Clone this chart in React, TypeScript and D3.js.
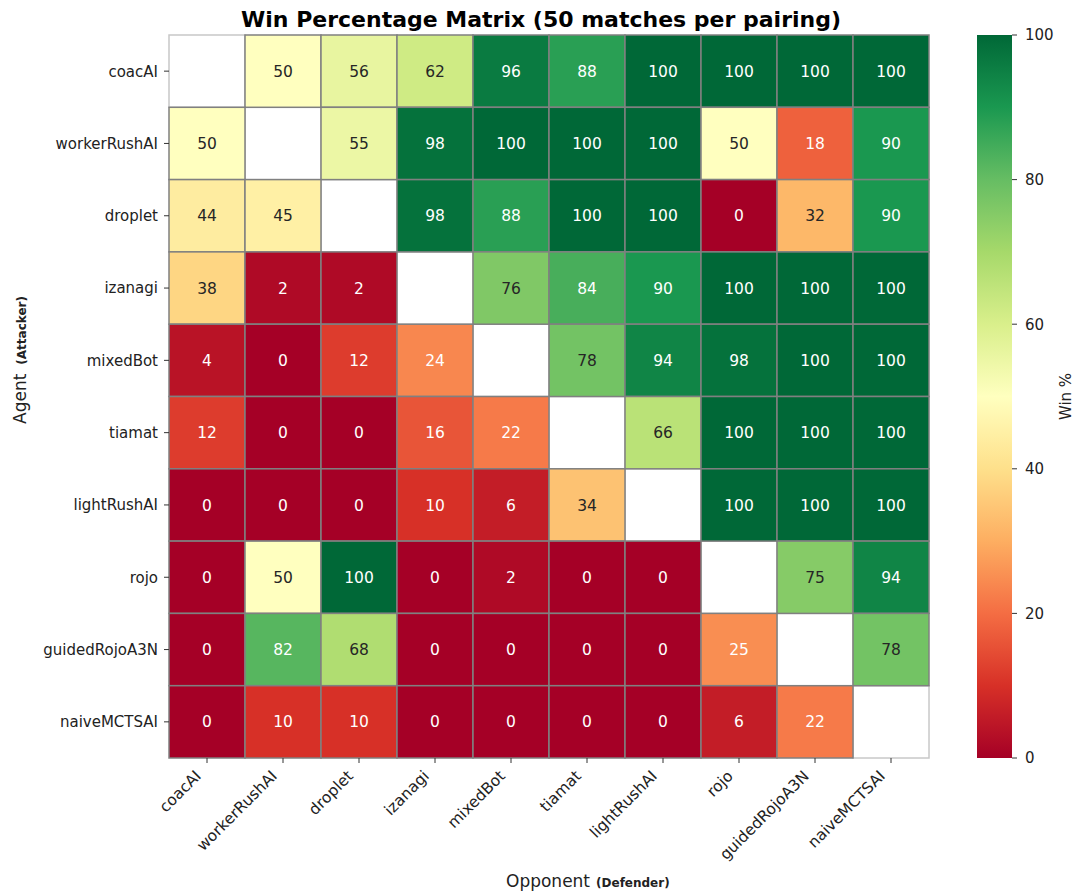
import React from "react";
import * as d3 from "d3";

// Agents in row/column order
const agents = [
  "coacAI",
  "workerRushAI",
  "droplet",
  "izanagi",
  "mixedBot",
  "tiamat",
  "lightRushAI",
  "rojo",
  "guidedRojoA3N",
  "naiveMCTSAI",
];

// Win % of attacker (row) against defender (column); null on the diagonal
const winRows: (number | null)[][] = [
  [null, 50, 56, 62, 96, 88, 100, 100, 100, 100],
  [50, null, 55, 98, 100, 100, 100, 50, 18, 90],
  [44, 45, null, 98, 88, 100, 100, 0, 32, 90],
  [38, 2, 2, null, 76, 84, 90, 100, 100, 100],
  [4, 0, 12, 24, null, 78, 94, 98, 100, 100],
  [12, 0, 0, 16, 22, null, 66, 100, 100, 100],
  [0, 0, 0, 10, 6, 34, null, 100, 100, 100],
  [0, 50, 100, 0, 2, 0, 0, null, 75, 94],
  [0, 82, 68, 0, 0, 0, 0, 25, null, 78],
  [0, 10, 10, 0, 0, 0, 0, 6, 22, null],
];

const colorTicks = [0, 20, 40, 60, 80, 100];

const W = 1080;
const H = 892;
const left = 169;
const right = 929;
const top = 35;
const bottom = 758;
const cbX = 977;
const cbW = 35;

const FONT = "DejaVu Sans, sans-serif";

// RdYlGn, linearly interpolated between the 11 ColorBrewer stops
const rdylgn = d3.piecewise(d3.interpolateRgb, [...d3.schemeRdYlGn[11]]);
const color = (v: number) => rdylgn(v / 100);

function luminance(c: string) {
  const rgb = d3.rgb(c);
  const lin = (x: number) => {
    const s = x / 255;
    return s <= 0.03928 ? s / 12.92 : Math.pow((s + 0.055) / 1.055, 2.4);
  };
  return 0.2126 * lin(rgb.r) + 0.7152 * lin(rgb.g) + 0.0722 * lin(rgb.b);
}

export default function App() {
  const x = d3.scaleBand<string>().domain(agents).range([left, right]);
  const y = d3.scaleBand<string>().domain(agents).range([top, bottom]);
  const cy = d3.scaleLinear().domain([0, 100]).range([bottom, top]);

  const cells: { r: number; c: number; v: number | null }[] = [];
  winRows.forEach((row, r) => row.forEach((v, c) => cells.push({ r, c, v })));

  const gradStops = d3.range(0, 1.0001, 0.05);

  return (
    <svg
      width={W}
      height={H}
      style={{ position: "absolute", left: 0, top: 0, background: "#fff" }}
      fontFamily={FONT}
    >
      <defs>
        <linearGradient id="cbar" x1="0" y1="1" x2="0" y2="0">
          {gradStops.map((t) => (
            <stop key={t} offset={t} stopColor={rdylgn(t)} />
          ))}
        </linearGradient>
      </defs>

      <text
        x={541}
        y={27}
        textAnchor="middle"
        fontSize={22}
        fontWeight="bold"
        fill="#000"
      >
        Win Percentage Matrix (50 matches per pairing)
      </text>

      {/* empty diagonal cells */}
      {cells
        .filter((d) => d.v === null)
        .map((d) => (
          <rect
            key={`n${d.r}-${d.c}`}
            x={x(agents[d.c])}
            y={y(agents[d.r])}
            width={x.bandwidth()}
            height={y.bandwidth()}
            fill="#fff"
            stroke="#c8c8c8"
            strokeWidth={1.5}
          />
        ))}

      {/* filled cells */}
      {cells
        .filter((d) => d.v !== null)
        .map((d) => (
          <rect
            key={`c${d.r}-${d.c}`}
            x={x(agents[d.c])}
            y={y(agents[d.r])}
            width={x.bandwidth()}
            height={y.bandwidth()}
            fill={color(d.v as number)}
            stroke="#808080"
            strokeWidth={1.5}
          />
        ))}

      {/* annotations */}
      {cells
        .filter((d) => d.v !== null)
        .map((d) => {
          const lum = luminance(color(d.v as number));
          return (
            <text
              key={`t${d.r}-${d.c}`}
              x={(x(agents[d.c]) as number) + x.bandwidth() / 2}
              y={(y(agents[d.r]) as number) + y.bandwidth() / 2}
              dy="0.36em"
              textAnchor="middle"
              fontSize={15.5}
              fill={lum > 0.408 ? "#262626" : "#fff"}
            >
              {d.v}
            </text>
          );
        })}

      {/* y axis */}
      {agents.map((a) => {
        const yy = (y(a) as number) + y.bandwidth() / 2;
        return (
          <g key={`y${a}`}>
            <line x1={left - 5} x2={left} y1={yy} y2={yy} stroke="#333" strokeWidth={1} />
            <text x={left - 11} y={yy} dy="0.36em" textAnchor="end" fontSize={15} fill="#222">
              {a}
            </text>
          </g>
        );
      })}

      {/* x axis */}
      {agents.map((a) => {
        const xx = (x(a) as number) + x.bandwidth() / 2;
        return (
          <g key={`x${a}`}>
            <line x1={xx} x2={xx} y1={bottom} y2={bottom + 5} stroke="#333" strokeWidth={1} />
            <text
              transform={`translate(${xx - 5},${bottom + 19}) rotate(-45)`}
              textAnchor="end"
              fontSize={15.5}
              fill="#222"
            >
              {a}
            </text>
          </g>
        );
      })}

      <text
        transform={`translate(25.5,424) rotate(-90)`}
        fontSize={17}
        fill="#222"
      >
        Agent
        <tspan dx={9} fontSize={12} fontWeight="bold">
          (Attacker)
        </tspan>
      </text>

      <text x={506} y={887} fontSize={17} fill="#222">
        Opponent
        <tspan dx={6} fontSize={12} fontWeight="bold">
          (Defender)
        </tspan>
      </text>

      {/* colorbar */}
      <rect x={cbX} y={top} width={cbW} height={bottom - top} fill="url(#cbar)" />
      {colorTicks.map((t) => (
        <g key={`cb${t}`}>
          <line x1={cbX + cbW} x2={cbX + cbW + 5} y1={cy(t)} y2={cy(t)} stroke="#333" />
          <text x={cbX + cbW + 13} y={cy(t)} dy="0.36em" fontSize={15} fill="#222">
            {t}
          </text>
        </g>
      ))}
      <text
        transform={`translate(1071,${(top + bottom) / 2}) rotate(-90)`}
        textAnchor="middle"
        fontSize={15}
        fill="#222"
      >
        Win %
      </text>
    </svg>
  );
}
